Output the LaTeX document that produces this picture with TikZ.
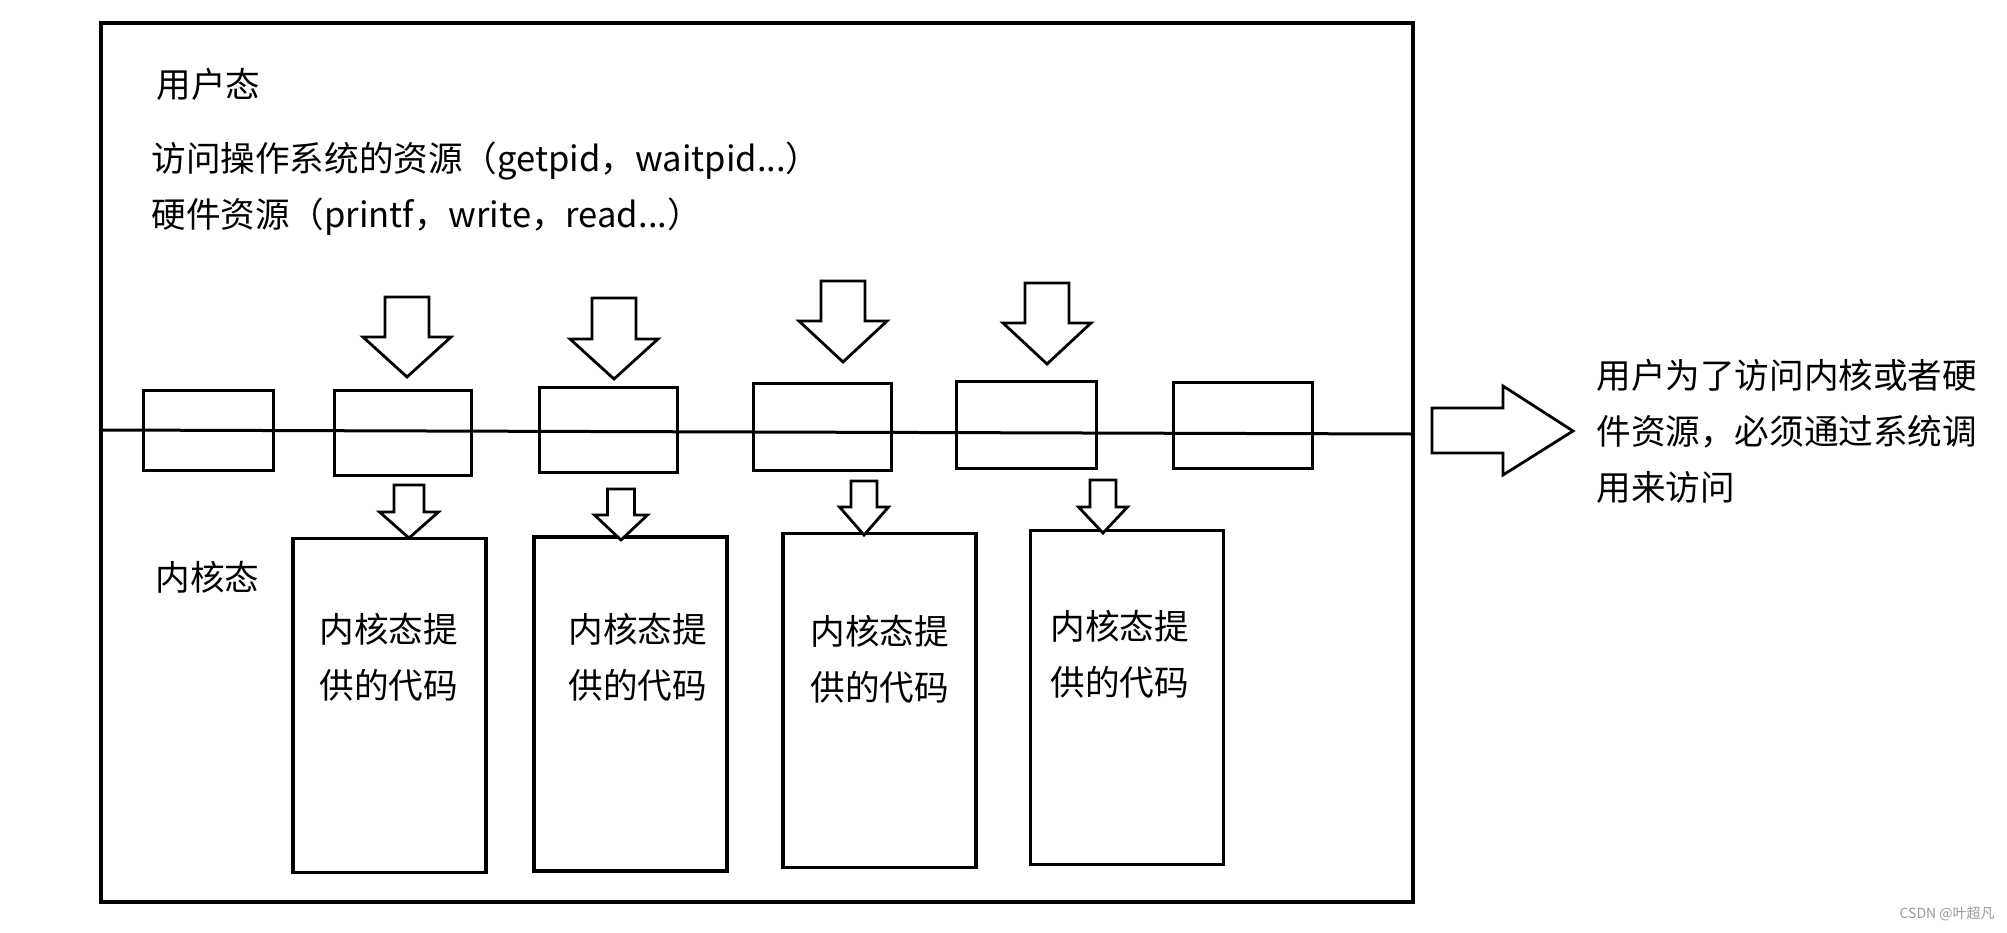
\documentclass[tikz,border=0pt]{standalone}
\usepackage{fontspec}
\setmainfont{Noto Sans CJK SC}
\usetikzlibrary{positioning}
\tikzstyle{arrowline} = [line width=1.4pt, line join=miter, fill=white]
% tip x, tip y, length, shaft half width, head half width, head length
\newcommand{\sysarrow}[6]{%
  \draw[arrowline] (#1-#4,#2-#3) -- (#1+#4,#2-#3) -- (#1+#4,#2-#6) -- (#1+#5,#2-#6)
    -- (#1,#2) -- (#1-#5,#2-#6) -- (#1-#4,#2-#6) -- cycle;}

\begin{document}
\begin{tikzpicture}[x=0.5pt, y=-0.5pt,
    gatebox/.style={rectangle, draw, line width=1.5pt, inner sep=0pt},
    codebox/.style={rectangle, draw, line width=1.6pt, inner sep=0pt,
      minimum width=96.5pt, minimum height=167pt},
    txt/.style={inner sep=0pt, anchor=north west, align=left,
      font=\fontsize{17.3}{28}\selectfont}
]
    \useasboundingbox (0,0) rectangle (2007,932);

    % outer frame and the user/kernel split
    \node[rectangle, draw, line width=2pt, minimum width=656pt, minimum height=439.5pt] (sys) at (757,462.5) {};
    \coordinate (split west) at (101,430);
    \coordinate (split east) at (1413,434);
    \draw[line width=1.5pt] (split west) -- (split east);

    \node[txt] (user) at (156,68) {用户态};
    \node[txt] (osres) at (151,141) {访问操作系统的资源（getpid，waitpid...）};
    \node[txt] (hwres) at (151,197) {硬件资源（printf，write，read...）};
    \node[txt] (kernel) at (155,561) {内核态};

    % system call gates
    \node[gatebox, minimum width=65pt, minimum height=40pt] (gate1) at (208,430) {};
    \node[gatebox, minimum width=68.5pt, minimum height=42.5pt] (gate2) at (402.5,432.5) {};
    \node[gatebox, minimum width=69pt, minimum height=42.5pt] (gate3) at (608,429.5) {};
    \node[gatebox, minimum width=69pt, minimum height=43.5pt] (gate4) at (822,426.5) {};
    \node[gatebox, minimum width=70pt, minimum height=43.5pt] (gate5) at (1026,424.5) {};
    \node[gatebox, minimum width=69.5pt, minimum height=43pt] (gate6) at (1243,425) {};

    % kernel code
    \node[codebox] (code1) at (389.5,705.5) {};
    \node[codebox] (code2) at (630.5,704) {};
    \node[codebox] (code3) at (879.5,700.5) {};
    \node[codebox] (code4) at (1127,697.5) {};
    \node[txt] at (319,613) {内核态提\\供的代码};
    \node[txt] at (568,613) {内核态提\\供的代码};
    \node[txt] at (810,615) {内核态提\\供的代码};
    \node[txt] at (1050,610) {内核态提\\供的代码};

    % calls into the gates
    \sysarrow{407}{377}{80}{22}{44}{40}
    \sysarrow{614}{379}{81}{22}{44}{40}
    \sysarrow{843}{362}{81}{22}{44}{41}
    \sysarrow{1047}{364}{81}{22}{44}{41}
    \sysarrow{409}{538}{53}{15}{29.5}{26}
    \sysarrow{621}{540}{51}{13.5}{26.5}{25}
    \sysarrow{864}{535}{54}{13}{24.5}{28}
    \sysarrow{1103}{533}{53}{13}{24.5}{26}

    % note on the right
    \draw[arrowline] (1432,408) -- (1503,408) -- (1503,386) -- (1573,431)
      -- (1503,475) -- (1503,453) -- (1432,453) -- cycle;
    \node[txt] (note) at (1596,359) {用户为了访问内核或者硬\\件资源，必须通过系统调\\用来访问};

    \node[anchor=east, inner sep=0pt, text=black!40, font=\fontsize{7}{8}\selectfont] (mark) at (1995,914) {CSDN @叶超凡};
\end{tikzpicture}
\end{document}
